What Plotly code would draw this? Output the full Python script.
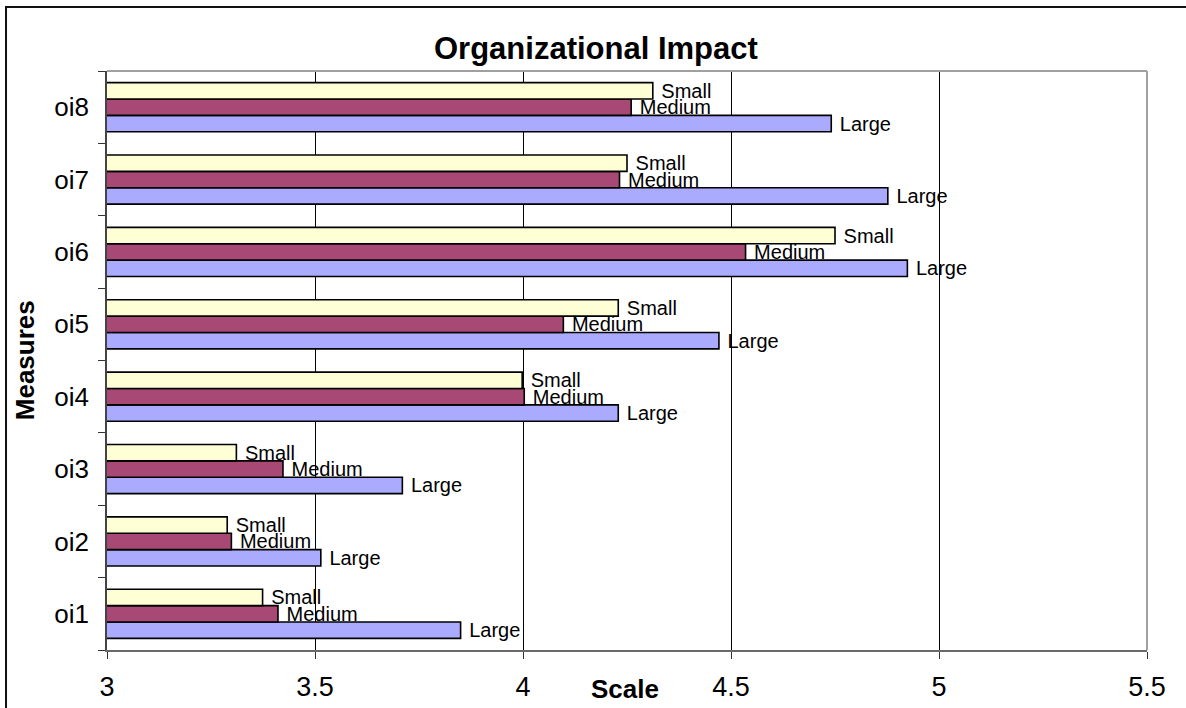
import plotly.graph_objects as go

# Organizational impact measures, average score per company size
measures = ["oi1", "oi2", "oi3", "oi4", "oi5", "oi6", "oi7", "oi8"]
large = [3.85, 3.514, 3.71, 4.229, 4.471, 4.924, 4.877, 4.741]
medium = [3.411, 3.299, 3.423, 4.003, 4.097, 4.535, 4.232, 4.26]
small = [3.374, 3.289, 3.311, 3.998, 4.229, 4.75, 4.25, 4.312]

x_ticks = [3, 3.5, 4, 4.5, 5, 5.5]

FONT = "Arial, Liberation Sans, sans-serif"

series = [
    ("Large", large, "#AAAAFF"),
    ("Medium", medium, "#A84874"),
    ("Small", small, "#FFFFD6"),
]

fig = go.Figure()
for name, vals, color in series:
    fig.add_trace(go.Bar(
        name=name,
        y=measures,
        x=vals,
        base=0,
        orientation="h",
        marker=dict(color=color, line=dict(color="#000000", width=1.6)),
        text=[" " + name] * len(vals),
        textposition="outside",
        constraintext="none",
        cliponaxis=False,
        textfont=dict(family=FONT, size=20, color="#000000"),
        hoverinfo="x+y+name",
    ))

fig.update_layout(
    width=1186,
    height=708,
    margin=dict(l=107, r=39, t=71, b=58, autoexpand=False),
    paper_bgcolor="#FFFFFF",
    plot_bgcolor="#FFFFFF",
    barmode="group",
    bargap=0.32,
    bargroupgap=0,
    showlegend=False,
    font=dict(family=FONT, color="#000000"),
    xaxis=dict(
        range=[3, 5.5],
        tickvals=x_ticks,
        ticktext=[f"{v:g}" for v in x_ticks],
        showgrid=True,
        gridcolor="#000000",
        gridwidth=1,
        zeroline=False,
        showline=True,
        linecolor="#6A6A6A",
        linewidth=1.5,
        ticks="outside",
        ticklen=7,
        tickcolor="#333333",
        tickwidth=1,
        ticklabelstandoff=5,
        tickfont=dict(family=FONT, size=27, color="#000000"),
        automargin=False,
    ),
    yaxis=dict(
        type="category",
        categoryorder="array",
        categoryarray=measures,
        showgrid=False,
        zeroline=False,
        showline=True,
        linecolor="#444444",
        linewidth=1.5,
        ticks="outside",
        tickson="boundaries",
        ticklen=7,
        tickcolor="#333333",
        tickwidth=1,
        ticklabelstandoff=11,
        tickfont=dict(family=FONT, size=26, color="#000000"),
        automargin=False,
    ),
    shapes=[
        # outer chart frame
        dict(type="rect", xref="paper", yref="paper",
             x0=-0.0971, y0=-0.3, x1=1.2, y1=1.1105,
             line=dict(color="#111111", width=2), layer="below"),
        # top and right edges of the plot area
        dict(type="line", xref="paper", yref="paper",
             x0=0, y0=1, x1=1, y1=1,
             line=dict(color="#A0A0A0", width=2)),
        dict(type="line", xref="paper", yref="paper",
             x0=1, y0=0, x1=1, y1=1,
             line=dict(color="#A0A0A0", width=2)),
    ],
    annotations=[
        dict(text="<b>Organizational Impact</b>", xref="paper", yref="paper",
             x=0.4705, y=1.038, xanchor="center", yanchor="middle",
             showarrow=False, font=dict(family=FONT, size=31, color="#000000")),
        dict(text="<b>Scale</b>", xref="paper", yref="paper",
             x=0.498, y=-0.068, xanchor="center", yanchor="middle",
             showarrow=False, font=dict(family=FONT, size=26, color="#000000")),
        dict(text="<b>Measures</b>", xref="paper", yref="paper",
             x=-0.0791, y=0.5, xanchor="center", yanchor="middle",
             textangle=-90, showarrow=False,
             font=dict(family=FONT, size=26, color="#000000")),
    ],
)

fig.write_html("out.html")
